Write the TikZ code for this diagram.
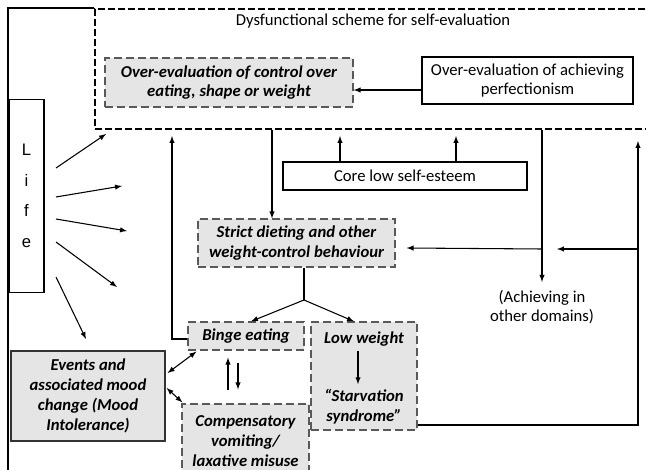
\documentclass[tikz,border=0pt]{standalone}
\usepackage{fontspec}
\setmainfont{Carlito}
\newfontfamily\lifefont{Liberation Sans}
\usetikzlibrary{arrows, calc}

\newcommand\diagsize{\fontsize{12.5}{14.8}\selectfont}

\tikzset{
  plainbox/.style={draw, line width=0.9pt, inner sep=0pt, align=center, font=\diagsize},
  evalbox/.style={plainbox, draw=black!65, fill=gray!20, dash pattern=on 6pt off 3pt,
    font=\diagsize\bfseries\itshape},
  moodbox/.style={plainbox, draw=black!80, fill=gray!20, font=\diagsize\bfseries\itshape},
  schemebox/.style={draw, line width=1.5pt, dash pattern=on 5pt off 2.5pt, inner sep=0pt},
  txt/.style={align=center, font=\diagsize},
  boldtxt/.style={align=center, font=\diagsize\bfseries\itshape},
}

\begin{document}
\begin{tikzpicture}[x=0.75pt, y=-0.75pt, >=latex, line width=0.8pt]
\useasboundingbox (0,0) rectangle (646,470);
\clip (0,0) rectangle (646,470);

% boxes
\node[schemebox, minimum width=438.75pt, minimum height=90pt] (scheme) at (387.5,69) {};
\node[txt] (title) at (373,21) {Dysfunctional scheme for self-evaluation};
\node[evalbox, minimum width=186pt, minimum height=36.75pt] (control) at (229,82.5)
  {Over-evaluation of control over\\eating, shape or weight};
\node[plainbox, minimum width=158.25pt, minimum height=35.25pt] (perfect) at (527.5,80.5)
  {Over-evaluation of achieving\\perfectionism};
\node[plainbox, minimum width=26.25pt, minimum height=144.75pt,
  font=\lifefont\fontsize{12.5}{23}\selectfont] (life) at (26.5,196) {L\\i\\f\\e};
\node[plainbox, minimum width=183pt, minimum height=21pt] (core) at (405,176) {Core low self-esteem};
\node[evalbox, minimum width=147.75pt, minimum height=36pt] (strict) at (296.5,243)
  {Strict dieting and other\\weight-control behaviour};
\node[evalbox, minimum width=87pt, minimum height=21pt] (binge) at (246,336) {Binge eating};
\node[evalbox, minimum width=79.5pt, minimum height=81pt] (low) at (364,376) {};
\node[boldtxt] (lowtxt) at (364,339) {Low weight};
\node[boldtxt] (starv) at (364,406.5) {“Starvation\\syndrome”};
\node[evalbox, minimum width=95.25pt, minimum height=55.5pt] (comp) at (245.5,441)
  {Compensatory\\vomiting/\\laxative misuse};
\node[moodbox, minimum width=115.5pt, minimum height=67.5pt] (events) at (88,396)
  {Events and\\associated mood\\change (Mood\\Intolerance)};
\node[txt] (achieve) at (542,307) {(Achieving in\\other domains)};

% outer frame
\draw (scheme.north west) -| (8,480);

% arrows out of life
\coordinate (l1) at (56,168); \coordinate (t1) at (106,134);
\coordinate (l2) at (56,197); \coordinate (t2) at (122,186);
\coordinate (l3) at (56,219); \coordinate (t3) at (127,231);
\coordinate (l4) at (56,242); \coordinate (t4) at (117,287);
\coordinate (l5) at (56,277); \coordinate (t5) at (86,339);

\path[]
(l1) edge[->] (t1)
(l2) edge[->] (t2)
(l3) edge[->] (t3)
(l4) edge[->] (t4)
(l5) edge[->] (t5)
(perfect.west |- 0,90) edge[->] (control.east |- 0,90)
(scheme.south -| 272,0) edge[->] (strict.north -| 272,0)
(core.north -| 340,0) edge[->] ($(scheme.south -| 340,0)+(0,6)$)
(core.north -| 456,0) edge[->] ($(scheme.south -| 456,0)+(0,6)$)
(scheme.south -| 542,0) edge[->] ($(achieve.north -| 542,0)+(0,-3)$)
(lowtxt.south -| 358,0) edge[->] (starv.north -| 358,0)
($(comp.north -| 228,0)+(0,-13)$) edge[->] ($(binge.south -| 228,0)+(0,7)$)
($(binge.south -| 238,0)+(0,12)$) edge[->] ($(comp.north -| 238,0)+(0,-14)$)
($(events.east)+(2,-23)$) edge[<->] ($(binge.south west)+(9,1)$)
($(events.east)+(1,-8)$) edge[<->] ($(comp.north west)+(1,-1)$)
;

\draw[->] (binge.west |- 0,339) -| ($(scheme.south -| 172,0)+(0,6)$);
\draw[->] (scheme.south -| 542,0) ++(0,119) -- ($(strict.east)+(11,5)$);
\draw[->] (low.east |- 0,425) -| ($(scheme.south -| 638,0)+(0,11)$);
\draw[->] ($(scheme.south -| 638,0)+(0,119)$) -- ++(-81,0);

\draw (strict.south -| 304,0) -- (304,300) coordinate (split);
\path[]
(split) edge[->] (binge.north -| 251,0)
(split) edge[->] (low.north -| 354,0)
;
\end{tikzpicture}
\end{document}
